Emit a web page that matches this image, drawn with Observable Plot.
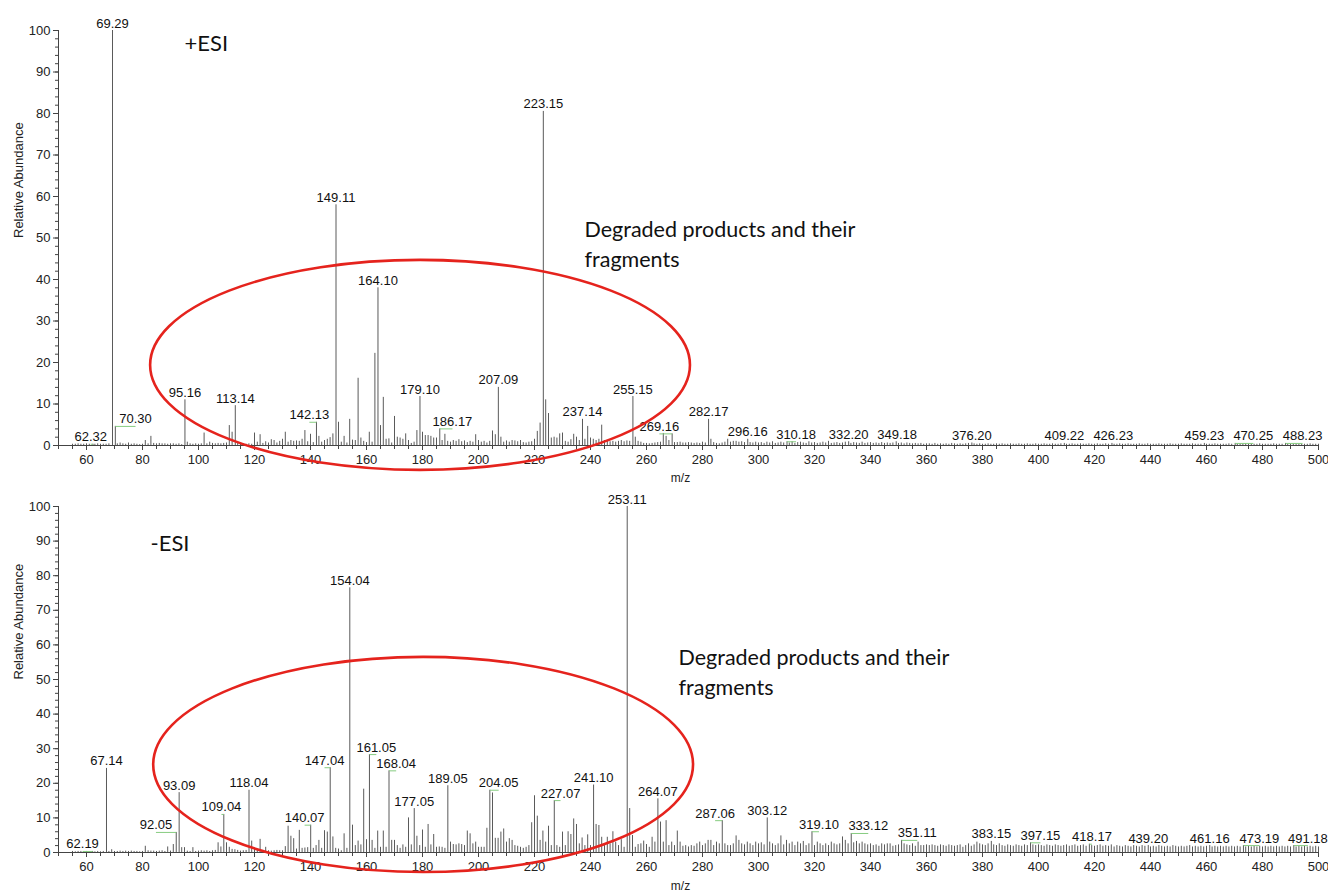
<!DOCTYPE html>
<html><head><meta charset="utf-8">
<script src="https://cdn.jsdelivr.net/npm/d3@7"></script>
<script src="https://cdn.jsdelivr.net/npm/@observablehq/plot@0.6"></script>
<style>
body{margin:0;background:#fff;}
#wrap{position:relative;width:1328px;height:893px;overflow:hidden;}
#wrap svg{display:block;}
</style></head><body><div id="wrap"></div>
<script>
// ---------- +ESI spectrum (m/z, relative abundance) ----------
const posMzLow = [
 55,56,57,58,59,60,61,62.32,63,64,
 65,66,67,68,69.29,70.30,71,72,73,74,
 75,76,77,78,79,80,81,82,83,84,
 85,86,87,88,89,90,91,92,93,94,
 95.16,96,97,98,99,100,101,102,103,104,
 105,106,107,108,109,110,111,112,113.14,114,
 115,116,117,118,119,120,121,122,123,124,
 125,126,127,128,129,130,131,132,133,134,
 135,136,137,138,139,140,141,142.13,143,144,
 145,146,147,148,149.11,150,151,152,153,154,
 155,156,157,158,159,160,161,162,163,164.10,
 165,166,167,168,169,170,171,172,173,174,
 175,176,177,178,179.10,180,181,182,183,184,
 185,186.17,187,188,189,190,191,192,193,194,
 195,196,197,198,199,200,201,202,203,204,
 205,206,207.09,208,209,210,211,212,213,214,
 215,216,217,218,219,220,221,222,223.15,224,
 225,226,227,228,229,230,231,232,233,234,
 235,236,237.14,238,239,240,241,242,243,244,
 245,246,247,248,249,250,251,252,253,254,
 255.15,256,257,258,259,260,261,262,263,264,
 265,266,267,268,269.16,270,271,272,273,274,
 275,276,277,278,279,280,281,282.17,283,284,
 285,286,287,288,289,290,291,292,293,294,
 295,296.16,297,298,299,300];
const posIntLow = [
 0.3,0.3,0.4,0.3,0.3,0.4,0.3,0.3,0.3,0.4,
 0.3,0.3,0.3,0.4,100,4.6,0.4,0.6,0.4,0.3,
 0.6,0.3,0.4,0.3,0.2,0.3,1.2,0.4,2.2,0.5,
 0.4,0.5,0.4,0.4,0.3,0.4,0.4,0.3,0.4,0.2,
 11,0.8,0.4,0.3,0.4,0.3,0.4,3,0.4,0.8,
 0.5,0.4,0.5,0.4,0.5,0.6,4.8,3.2,9.6,0.8,
 0.6,0.4,0.3,0.4,0.3,3,0.8,2.6,0.5,0.9,
 0.6,1.4,1.2,0.6,1,1.5,3.2,0.8,1.2,1,
 1.1,1,1.5,3.6,0.9,2.7,0.7,5.6,2.2,0.8,
 1.2,1.5,1.9,2.8,58,5.6,0.8,2.2,0.6,6.3,
 1.3,1.2,16.2,1.8,1,0.7,3.2,0.8,22.2,38,
 4.8,11.6,1.5,1.6,0.6,7,2,1.8,1.5,2.8,
 1.2,0.5,0.8,3.6,11.8,3.2,2.4,2.4,2.2,1.8,
 1.8,4,1.2,2.7,1,0.8,1.2,1,1.4,0.9,
 1.1,0.7,1,0.8,2.6,1.2,0.8,1,0.6,1,
 3.5,2.6,14,2,0.8,1.1,0.8,1.2,1.1,0.9,
 1.2,0.7,0.6,0.8,0.9,1.5,3.4,5.4,80.5,11,
 7.7,1.8,2,1.8,2.8,3,1,0.8,1.4,2.7,
 2,1.2,6.3,1.5,4.6,1.8,1.5,1.2,1.5,4.9,
 1.2,1,0.9,1,0.8,1,1.2,0.9,1.1,1,
 11.8,2,1,0.8,0.5,0.5,0.4,0.5,0.6,0.7,
 0.8,2.9,2.2,1.2,2.8,0.7,0.7,0.8,0.6,0.6,
 0.7,0.6,0.5,0.6,0.5,0.8,0.6,6.3,1.5,0.7,
 0.5,0.4,0.6,0.8,1.5,0.8,1,1,0.8,0.9,
 0.7,1.5,0.7,0.6,0.8,0.6];
const posMzHigh = [
 301,302,303,304,305,306,307,308,309,310.18,311,312,313,314,315,316,317,318,319,320,
 321,322,323,324,325,326,327,328,329,330,331,332.20,333,334,335,336,337,338,339,340,
 341,342,343,344,345,346,347,348,349.18,350,351,352,353,354,355,356,357,358,359,360,
 361,362,363,364,365,366,367,368,369,370,371,372,373,374,375,376.20,377,378,379,380,
 381,382,383,384,385,386,387,388,389,390,391,392,393,394,395,396,397,398,399,400,
 401,402,403,404,405,406,407,408,409.22,410,411,412,413,414,415,416,417,418,419,420,
 421,422,423,424,425,426.23,427,428,429,430,431,432,433,434,435,436,437,438,439,440,
 441,442,443,444,445,446,447,448,449,450,451,452,453,454,455,456,457,458,459.23,460,
 461,462,463,464,465,466,467,468,469,470.25,471,472,473,474,475,476,477,478,479,480,
 481,482,483,484,485,486,487,488.23,489,490,491,492,493,494,495,496,497,498,499,500];
const posIntHigh = [
 0.7,0.5,0.8,0.6,0.9,0.5,0.6,0.8,0.6,0.9,0.6,0.9,0.5,0.7,0.8,0.6,0.5,0.9,0.6,0.7,
 0.5,0.6,0.8,0.6,1.0,0.5,0.6,0.7,0.5,0.6,0.8,0.9,0.5,0.7,0.6,0.5,0.8,0.5,0.6,0.7,
 0.5,0.6,0.5,0.7,0.5,0.6,0.5,0.6,0.9,0.5,0.6,0.4,0.6,0.5,0.4,0.5,0.4,0.5,0.3,0.4,
 0.4,0.3,0.5,0.3,0.4,0.3,0.4,0.3,0.5,0.4,0.3,0.4,0.3,0.4,0.5,0.6,0.4,0.3,0.4,0.3,
 0.3,0.4,0.3,0.3,0.4,0.3,0.4,0.3,0.3,0.4,0.3,0.3,0.4,0.3,0.3,0.4,0.3,0.3,0.4,0.3,
 0.3,0.4,0.3,0.3,0.4,0.3,0.3,0.4,0.5,0.3,0.3,0.4,0.3,0.3,0.4,0.3,0.3,0.4,0.3,0.3,
 0.4,0.3,0.3,0.4,0.3,0.5,0.3,0.3,0.4,0.3,0.3,0.4,0.3,0.3,0.3,0.4,0.3,0.3,0.4,0.3,
 0.3,0.3,0.4,0.3,0.3,0.3,0.4,0.3,0.3,0.3,0.4,0.3,0.3,0.3,0.4,0.3,0.3,0.3,0.5,0.3,
 0.3,0.3,0.4,0.3,0.3,0.3,0.3,0.4,0.3,0.5,0.3,0.3,0.3,0.4,0.3,0.3,0.3,0.3,0.4,0.3,
 0.3,0.3,0.3,0.4,0.3,0.3,0.3,0.5,0.3,0.3,0.3,0.4,0.3,0.3,0.3,0.3,0.4,0.3,0.3,0.3];
const posLabels = ["62.32","69.29","70.30","95.16","113.14","142.13","149.11","164.10","179.10","186.17",
 "207.09","223.15","237.14","255.15","269.16","282.17","296.16","310.18","332.20","349.18",
 "376.20","409.22","426.23","459.23","470.25","488.23"];
const posLabelX = [61.5,69.29,77.5,95.16,113.14,139.6,149.11,164.10,179.10,190.7,
 207.09,223.15,237.14,255.15,264.6,282.17,296.16,313.4,332.2,349.5,
 376.2,409.22,426.7,459.23,476.7,494.3];

// ---------- -ESI spectrum ----------
const negMzLow = [
 55,56,57,58,59,60,61,62.19,63,64,
 65,66,67.14,68,69,70,71,72,73,74,
 75,76,77,78,79,80,81,82,83,84,
 85,86,87,88,89,90,91,92.05,93.09,94,
 95,96,97,98,99,100,101,102,103,104,
 105,106,107,108,109.04,110,111,112,113,114,
 115,116,117,118.04,119,120,121,122,123,124,
 125,126,127,128,129,130,131,132,133,134,
 135,136,137,138,139,140.07,141,142,143,144,
 145,146,147.04,148,149,150,151,152,153,154.04,
 155,156,157,158,159,160,161.05,162,163,164,
 165,166,167,168.04,169,170,171,172,173,174,
 175,176,177.05,178,179,180,181,182,183,184,
 185,186,187,188,189.05,190,191,192,193,194,
 195,196,197,198,199,200,201,202,203,204.05,
 205,206,207,208,209,210,211,212,213,214,
 215,216,217,218,219,220,221,222,223,224,
 225,226,227.07,228,229,230,231,232,233,234,
 235,236,237,238,239,240,241.10,242,243,244,
 245,246,247,248,249,250,251,252,253.11,254,
 255,256,257,258,259,260,261,262,263,264.07,
 265,266,267,268,269,270,271,272,273,274,
 275,276,277,278,279,280,281,282,283,284,
 285,286,287.06,288,289,290,291,292,293,294,
 295,296,297,298,299,300];
const negIntLow = [
 0.3,0.2,0.3,0.3,0.2,0.3,0.2,0.3,0.2,0.3,
 0.2,0.3,24.3,0.3,0.8,0.3,0.3,0.4,0.3,0.4,
 0.3,0.4,0.3,0.3,0.2,0.3,1.8,0.5,0.4,0.4,
 0.3,0.4,0.5,0.3,1.6,0.4,2.3,5.8,17.3,1.4,
 1.4,0.4,0.3,1.4,0.3,0.4,0.5,0.4,0.5,0.3,
 0.5,0.6,2.8,1.6,11,2.8,1.5,0.9,0.8,0.6,
 0.4,0.5,0.6,18,3.3,0.9,0.6,3.8,0.6,1.5,
 0.5,0.4,0.5,0.6,0.5,0.5,1.7,7.6,4.7,4,
 1,6.4,1.2,1.3,1.4,7.9,1.2,2,3.5,1.2,
 6.3,5.9,24.5,4.5,1.2,1,0.5,5.4,1.2,76.5,
 7.9,2,3.3,2.2,18.3,3.7,28.3,3.5,1.2,6.2,
 1.5,6.2,1.5,23.6,3.5,3.5,2,1.2,2.2,1.5,
 10,2.2,12.7,4.7,2,6.5,1.5,8.1,2.2,5.2,
 1.5,1.6,1.5,1.2,19.3,3,2.3,2.2,2.5,2.3,
 2,6.2,5.4,2.5,3,1.5,1.5,1.5,7,18,
 17.2,4.1,4.1,5.9,6.8,3,4,3.5,2,1.8,
 1.5,1.2,1.5,2,8.6,16.4,10.5,3.5,6.2,3,
 7.6,2,15,2,1.5,5.9,2,6,5.2,9.7,
 8.1,2.5,4.2,2,5.1,2,19.5,8.1,7.8,4.4,
 2,4.4,2.5,6,3,2,3.7,1.5,100,12.7,
 4.9,1.5,2.3,2.5,3.3,2.3,1.5,4.4,3,15.5,
 8.8,3,9.2,2,3,2,6.2,3,1.8,2,
 1.6,2,1.8,2.5,3,2,2.5,3.5,3.5,2,
 3,2.5,9.2,2.5,2,2,2.5,4.8,3.5,2.5,
 2.2,3,2.5,2,3,2.5];
const negMzHigh = [
 301,302,303.12,304,305,306,307,308,309,310,311,312,313,314,315,316,317,318,319.10,320,
 321,322,323,324,325,326,327,328,329,330,331,332,333.12,334,335,336,337,338,339,340,
 341,342,343,344,345,346,347,348,349,350,351.11,352,353,354,355,356,357,358,359,360,
 361,362,363,364,365,366,367,368,369,370,371,372,373,374,375,376,377,378,379,380,
 381,382,383.15,384,385,386,387,388,389,390,391,392,393,394,395,396,397.15,398,399,400,
 401,402,403,404,405,406,407,408,409,410,411,412,413,414,415,416,417,418.17,419,420,
 421,422,423,424,425,426,427,428,429,430,431,432,433,434,435,436,437,438,439.20,440,
 441,442,443,444,445,446,447,448,449,450,451,452,453,454,455,456,457,458,459,460,
 461.16,462,463,464,465,466,467,468,469,470,471,472,473.19,474,475,476,477,478,479,480,
 481,482,483,484,485,486,487,488,489,490,491.18,492,493,494,495,496,497,498,499,500];
const negIntHigh = [
 2.8,2.2,10,3,2.5,2,2.5,4.8,2.2,3.5,2.5,3,2,3,2.5,3.2,2,2.5,6,2,
 3,2.5,2,2.5,2,3,2.5,2.2,2.5,4.5,3.5,2.5,5.5,2.8,3.2,2.5,3,2.5,2.2,2.5,
 2,2.2,1.8,2.5,2.2,2.5,2.5,1.8,2,2.2,3.5,2.5,2.2,2,2.5,1.8,3,2,2,2.2,
 2,2.2,2,1.8,2.2,2,1.8,2.2,2,1.8,2,2.2,1.5,2,2.5,1.8,2.2,3,2.5,2.2,
 2,2.5,3.2,2.2,2,2.5,2,1.8,2.2,2,1.8,2.2,2,1.8,2.2,2,2.8,2.2,2,2.2,
 2,1.8,2.2,2,1.8,2.2,2,1.8,2,2.2,1.8,2,2.2,1.8,2,2.2,1.8,2.4,2,1.8,
 2,2.2,1.8,2,1.8,2.2,1.6,2,1.8,1.6,2,1.8,1.6,2,1.8,1.6,2,1.8,2,1.6,
 1.8,1.6,2,1.8,1.6,1.8,1.6,2,1.8,1.6,1.8,1.6,1.8,2,1.6,1.8,1.6,1.8,1.6,1.8,
 2,1.6,1.8,1.6,1.8,1.6,1.8,1.6,1.8,1.6,1.8,1.6,2,1.6,1.8,1.6,1.8,1.6,1.8,1.6,
 1.8,1.6,1.8,1.6,1.8,1.6,1.8,1.6,1.8,1.6,2,1.6,1.8,1.6,1.8,1.6,1.8,1.6,1.8,1.6];
const negLabels = ["62.19","67.14","92.05","93.09","109.04","118.04","140.07","147.04","154.04","161.05",
 "168.04","177.05","189.05","204.05","227.07","241.10","253.11","264.07","287.06","303.12",
 "319.10","333.12","351.11","383.15","397.15","418.17","439.20","461.16","473.19","491.18"];
const negLabelX = [58.6,67.14,84.8,93.09,108.2,118.04,137.9,145,154.04,163.5,
 170.6,177.05,189.05,207.2,229.3,241.1,253.11,264.07,284.5,303.12,
 321.6,339.2,356.7,383.15,400.7,419.1,439.2,461.16,478.9,496.2];

// ---------- axes ----------
const xMajorTicks = [60,80,100,120,140,160,180,200,220,240,260,280,300,320,340,360,380,400,420,440,460,480,500];
const xMinorTicks = [50,55,60,65,70,75,80,85,90,95,100,105,110,115,120,125,130,135,140,145,150,155,160,165,170,175,180,185,190,195,200,205,210,215,220,225,230,235,240,245,250,255,260,265,270,275,280,285,290,295,300,305,310,315,320,325,330,335,340,345,350,355,360,365,370,375,380,385,390,395,400,405,410,415,420,425,430,435,440,445,450,455,460,465,470,475,480,485,490,495,500];
const yMajorTicks = [0,10,20,30,40,50,60,70,80,90,100];
const yMinorTicks = [0,2,4,6,8,10,12,14,16,18,20,22,24,26,28,30,32,34,36,38,40,42,44,46,48,50,52,54,56,58,60,62,64,66,68,70,72,74,76,78,80,82,84,86,88,90,92,94,96,98,100];

const FONT = "Arial, 'Liberation Sans', sans-serif";
const NOTE_FONT = "Lato, 'Open Sans', sans-serif";

function panel(cfg) {
  const peaks = cfg.mz.map((m, i) => ({mz: m, int: cfg.ints[i]}));
  const labs = cfg.labels.map((t, i) => {
    const m = parseFloat(t);
    const p = peaks.find(d => Math.abs(d.mz - m) < 1e-6);
    return {text: t, mz: m, int: p ? p.int : 0, lx: cfg.labelX[i]};
  });
  const links = labs.filter(d => Math.abs(d.lx - d.mz) > 0.8);
  const mL = 58, mR = 10;
  const plot = Plot.plot({
    width: 1328, height: cfg.height,
    marginLeft: mL, marginRight: mR, marginTop: cfg.mTop, marginBottom: cfg.mBottom,
    style: {fontFamily: FONT, fontSize: "13px", color: "#222", background: "transparent", overflow: "visible"},
    x: {domain: [50, 500]},
    y: {domain: [0, 100]},
    marks: [
      Plot.axisX(xMinorTicks, {tickSize: 4, tickFormat: () => "", label: null, stroke: "#444"}),
      Plot.axisX(xMajorTicks, {tickSize: 5, tickPadding: 4, label: null, stroke: "#444", fontSize: 13}),
      Plot.axisY(yMinorTicks, {tickSize: 3, tickFormat: () => "", label: null, stroke: "#444"}),
      Plot.axisY(yMajorTicks, {tickSize: 5, tickPadding: 3, label: null, stroke: "#444", fontSize: 13}),
      Plot.ruleX(peaks, {x: "mz", y1: 0, y2: "int", stroke: "#5a5a5a", strokeWidth: 1}),
      Plot.ruleY([0], {stroke: "#444"}),
      Plot.ruleX([50], {y1: 0, y2: 100, stroke: "#444"}),
      Plot.link(links, {x1: "mz", y1: "int", x2: "lx", y2: "int", stroke: "#86cc80", strokeWidth: 1}),
      Plot.text(labs, {x: "lx", y: "int", text: "text", lineAnchor: "bottom", dy: -3, fontSize: 13, fill: "#111"}),
      Plot.text(["Relative Abundance"], {frameAnchor: "left", dx: -40, rotate: -90, fontSize: 13, fill: "#222"}),
      Plot.text(["m/z"], {frameAnchor: "bottom", dx: -8, dy: cfg.mzDy, fontSize: 12, fill: "#222"}),
      Plot.text([cfg.mode], {frameAnchor: "top-left", dx: cfg.modePos[0] - mL, dy: cfg.modePos[1] - cfg.mTop,
        textAnchor: "start", lineAnchor: "middle", fontSize: 22, fontFamily: NOTE_FONT, fill: "#111"}),
      Plot.text([cfg.note], {frameAnchor: "top-left", dx: cfg.notePos[0] - mL, dy: cfg.notePos[1] - cfg.mTop,
        textAnchor: "start", lineAnchor: "top", fontSize: 21.5, lineHeight: 1.36, fontFamily: NOTE_FONT, fill: "#111"})
    ]
  });
  const sx = plot.scale("x"), sy = plot.scale("y");
  const X = d3.scaleLinear(sx.domain, sx.range), Y = d3.scaleLinear(sy.domain, sy.range);
  const e = cfg.ellipse;
  d3.select(plot).append("ellipse")
    .attr("cx", X(e.cx)).attr("cy", Y(e.cy))
    .attr("rx", Math.abs(X(e.cx + e.rx) - X(e.cx)))
    .attr("ry", Math.abs(Y(e.cy + e.ry) - Y(e.cy)))
    .attr("fill", "none").attr("stroke", "#e5231d").attr("stroke-width", 2.6);
  return plot;
}

const wrap = document.getElementById("wrap");
wrap.append(panel({
  mz: posMzLow.concat(posMzHigh), ints: posIntLow.concat(posIntHigh),
  labels: posLabels, labelX: posLabelX,
  height: 480, mTop: 30, mBottom: 35, mzDy: 36,
  mode: "+ESI", modePos: [184, 43],
  note: "Degraded products and their\nfragments", notePos: [584, 216],
  ellipse: {cx: 179.3, cy: 19.3, rx: 96.4, ry: 25.3}
}));
wrap.append(panel({
  mz: negMzLow.concat(negMzHigh), ints: negIntLow.concat(negIntHigh),
  labels: negLabels, labelX: negLabelX,
  height: 413, mTop: 26, mBottom: 41, mzDy: 37,
  mode: "-ESI", modePos: [150, 63],
  note: "Degraded products and their\nfragments", notePos: [678, 164],
  ellipse: {cx: 180.4, cy: 25.3, rx: 96.4, ry: 31.1}
}));
</script>
</body></html>
